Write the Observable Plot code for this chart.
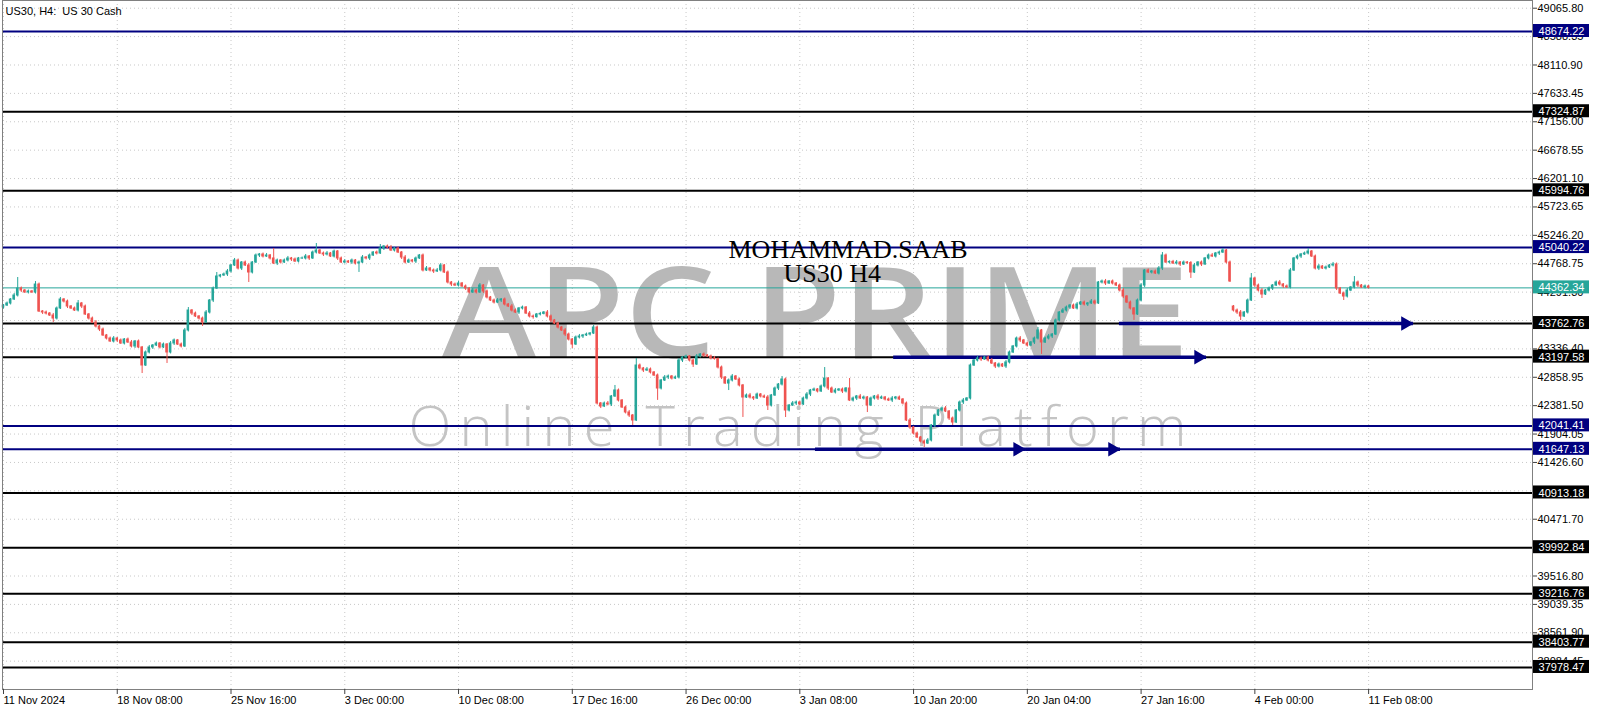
<!DOCTYPE html>
<html><head><meta charset="utf-8">
<script src="https://cdn.jsdelivr.net/npm/d3@7"></script>
<script src="https://cdn.jsdelivr.net/npm/@observablehq/plot@0.6"></script>
<style>html,body{margin:0;padding:0;background:#fff;overflow:hidden}#chart{position:absolute;left:0;top:0}</style>
</head><body><div id="chart"></div>
<script>
const chartTitle = "US30, H4:  US 30 Cash";
const watermark = "APC PRIME";
const watermarkSub = "Online Trading Platform";
const author = "MOHAMMAD.SAAB";
const symbolTf = "US30 H4";

const timeLabels = ["11 Nov 2024","18 Nov 08:00","25 Nov 16:00","3 Dec 00:00","10 Dec 08:00","17 Dec 16:00","26 Dec 00:00","3 Jan 08:00","10 Jan 20:00","20 Jan 04:00","27 Jan 16:00","4 Feb 00:00","11 Feb 08:00"];
const timeLabelBars = [0,32,64,96,128,160,192,224,256,288,320,352,384];

const priceTicks = [49065.80,48588.35,48110.90,47633.45,47156.00,46678.55,46201.10,45723.65,45246.20,44768.75,44291.30,43813.85,43336.40,42858.95,42381.50,41904.05,41426.60,40949.15,40471.70,39994.25,39516.80,39039.35,38561.90,38084.45];

const levels = [48674.22,47324.87,45994.76,45040.22,43762.76,43197.58,42041.41,41647.13,40913.18,39992.84,39216.76,38403.77,37978.47];
const levelColors = ["navy","black","black","navy","black","black","navy","navy","black","black","black","black","black"];
const currentPrice = 44362.34;

const arrowStart = [313.9,250.4,228.4,287.5];
const arrowEnd = [396.6,338.4,287.5,314.2];
const arrowLevel = [43762.76,43197.58,41647.13,41647.13];

const open = [
44032,44066,44100,44167,44234,44352,44318,44285,44302,44285,
44419,43965,43948,43931,43898,43847,44016,44167,44133,44049,
44016,43982,44100,44049,43915,43847,43780,43713,43662,43562,
43511,43461,43511,43478,43427,43494,43444,43377,43461,43360,
43057,43276,43360,43393,43427,43360,43410,43276,43427,43478,
43410,43377,43646,43982,43931,43881,43847,43780,43948,44150,
44352,44554,44571,44588,44638,44739,44823,44688,44789,44739,
44621,44789,44907,44924,44890,44907,44857,44772,44823,44789,
44823,44857,44840,44806,44857,44857,44890,44857,44957,44991,
44941,44924,44941,44890,44974,44857,44789,44806,44789,44823,
44772,44789,44873,44857,44907,44957,44941,45025,45058,45041,
44991,45025,44957,44873,44789,44823,44806,44857,44907,44655,
44688,44655,44638,44655,44739,44621,44453,44419,44402,44436,
44386,44352,44285,44318,44285,44402,44302,44201,44150,44116,
44150,44167,44083,44049,43982,43948,44016,44032,43931,43881,
43870,43915,43925,43948,43881,43814,43763,43696,43646,43578,
43494,43410,43528,43545,43562,43578,43595,43696,42418,42367,
42418,42401,42536,42637,42468,42351,42267,42216,42132,43057,
43007,42973,42990,42939,42889,42670,42805,42855,42872,42838,
42855,43141,43192,43208,43141,43074,43208,43242,43225,43208,
43175,43165,43023,42855,42754,42805,42872,42822,42721,42519,
42553,42519,42502,42569,42536,42519,42384,42553,42670,42737,
42822,42300,42384,42418,42435,42401,42502,42569,42637,42653,
42620,42704,42838,42670,42603,42637,42653,42620,42670,42468,
42502,42536,42502,42519,42384,42502,42536,42502,42519,42485,
42468,42502,42519,42485,42418,42132,42014,41913,41846,41779,
41745,41796,42048,42216,42300,42334,42283,42166,42098,42300,
42435,42468,42502,43057,43141,43175,43158,43192,43141,43091,
43040,43074,43040,43108,43276,43377,43511,43478,43427,43393,
43444,43511,43646,43444,43511,43545,43578,43814,43948,43982,
44032,44066,44016,44083,44116,44083,44100,44133,44100,44453,
44470,44436,44470,44436,44402,44318,44217,44116,44016,43915,
44150,44402,44655,44621,44638,44604,44688,44907,44789,44800,
44772,44789,44756,44789,44780,44621,44739,44789,44756,44857,
44907,44890,44941,44957,44991,44789,44049,43982,43948,43881,
43948,44150,44520,44402,44318,44251,44318,44352,44402,44453,
44419,44386,44369,44655,44857,44890,44924,44941,44974,44890,
44688,44722,44688,44705,44739,44756,44352,44268,44217,44318,
44369,44453,44402,44369,44386];

const close = [
44066,44100,44167,44234,44352,44318,44285,44302,44285,44419,
43965,43948,43931,43898,43847,44016,44167,44133,44049,44016,
43982,44100,44049,43915,43847,43780,43713,43662,43562,43511,
43461,43511,43478,43427,43494,43444,43377,43461,43360,43057,
43276,43360,43393,43427,43360,43410,43276,43427,43478,43410,
43377,43646,43982,43931,43881,43847,43780,43948,44150,44352,
44554,44571,44588,44638,44739,44823,44688,44789,44739,44621,
44789,44907,44924,44890,44907,44857,44772,44823,44789,44823,
44857,44840,44806,44857,44857,44890,44857,44957,44991,44941,
44924,44941,44890,44974,44857,44789,44806,44789,44823,44772,
44789,44873,44857,44907,44957,44941,45025,45058,45041,44991,
45025,44957,44873,44789,44823,44806,44857,44907,44655,44688,
44655,44638,44655,44739,44621,44453,44419,44402,44436,44386,
44352,44285,44318,44285,44402,44302,44201,44150,44116,44150,
44167,44083,44049,43982,43948,44016,44032,43931,43881,43870,
43915,43925,43948,43881,43814,43763,43696,43646,43578,43494,
43410,43528,43545,43562,43578,43595,43696,42418,42367,42418,
42401,42536,42637,42468,42351,42267,42216,42132,43057,43007,
42973,42990,42939,42889,42670,42805,42855,42872,42838,42855,
43141,43192,43208,43141,43074,43208,43242,43225,43208,43175,
43165,43023,42855,42754,42805,42872,42822,42721,42519,42553,
42519,42502,42569,42536,42519,42384,42553,42670,42737,42822,
42300,42384,42418,42435,42401,42502,42569,42637,42653,42620,
42704,42838,42670,42603,42637,42653,42620,42670,42468,42502,
42536,42502,42519,42384,42502,42536,42502,42519,42485,42468,
42502,42519,42485,42418,42132,42014,41913,41846,41779,41745,
41796,42048,42216,42300,42334,42283,42166,42098,42300,42435,
42468,42502,43057,43141,43175,43158,43192,43141,43091,43040,
43074,43040,43108,43276,43377,43511,43478,43427,43393,43444,
43511,43646,43444,43511,43545,43578,43814,43948,43982,44032,
44066,44016,44083,44116,44083,44100,44133,44100,44453,44470,
44436,44470,44436,44402,44318,44217,44116,44016,43915,44150,
44402,44655,44621,44638,44604,44688,44907,44789,44800,44772,
44789,44756,44789,44780,44621,44739,44789,44756,44857,44907,
44890,44941,44957,44991,44789,44470,43982,43948,43881,43948,
44150,44520,44402,44318,44251,44318,44352,44402,44453,44419,
44386,44369,44655,44857,44890,44924,44941,44974,44890,44688,
44722,44688,44705,44739,44756,44352,44268,44217,44318,44369,
44453,44402,44369,44386,44362];

const upperWick = [
17,25,17,34,185,25,17,25,17,50,25,17,25,17,34,25,34,17,25,17,
25,50,17,25,17,25,34,17,25,17,25,34,17,25,17,25,34,17,25,17,
25,34,17,25,17,25,17,34,25,17,25,34,50,17,25,17,25,34,17,25,
67,17,25,34,17,34,25,17,25,34,17,25,17,25,34,17,168,25,17,25,
34,17,25,17,25,34,17,25,118,17,25,34,17,25,17,25,34,17,25,17,
25,34,17,25,17,25,67,17,25,34,17,25,17,34,25,17,25,17,25,34,
17,25,34,34,17,25,17,25,34,17,25,17,34,25,34,17,25,17,25,34,
17,25,17,34,25,17,25,17,34,25,17,25,17,34,25,17,25,17,34,25,
17,25,34,17,25,17,34,25,17,25,34,17,84,25,17,25,34,17,118,25,
17,34,25,17,25,17,34,25,17,25,34,17,25,17,25,34,17,25,17,25,
34,17,25,17,25,34,17,25,17,25,34,17,25,17,25,34,17,25,17,50,
25,17,34,25,17,25,34,17,25,17,25,185,17,25,34,17,25,17,168,25,
17,34,25,17,25,17,34,25,17,25,34,17,25,17,25,34,17,25,17,25,
34,17,25,17,25,34,17,25,17,25,34,17,25,17,34,25,17,25,34,17,
25,17,34,25,17,25,34,17,25,17,25,50,17,25,34,17,25,17,34,25,
17,25,34,17,25,17,34,25,17,25,34,17,25,17,25,34,17,25,17,25,
34,17,25,17,25,34,50,25,17,25,34,17,25,17,25,34,17,25,17,25,
34,17,25,34,17,25,17,25,34,17,25,84,17,25,34,17,25,17,25,34,
17,25,34,17,25,17,25,50,17,25,34,17,25,17,34,25,17,25,34,17,
100,25,17,25,17];

const lowerWick = [
25,17,25,17,25,34,17,25,17,25,17,34,25,17,67,25,17,25,34,17,
17,25,34,17,25,17,25,34,17,25,17,25,34,17,25,17,25,34,17,135,
17,25,34,17,25,17,185,25,34,17,25,17,25,34,17,25,67,17,25,34,
17,25,17,34,25,17,25,34,17,168,25,17,34,25,17,25,17,34,25,17,
25,34,17,25,17,25,34,17,25,17,34,25,17,25,34,17,25,17,34,25,
150,17,25,34,17,25,17,34,25,17,25,17,34,25,17,25,34,17,25,17,
25,34,17,25,17,25,34,17,25,17,34,25,17,25,17,34,25,17,25,17,
34,25,17,25,17,34,25,17,25,34,17,25,17,25,34,17,25,17,34,25,
67,17,25,34,17,25,17,25,34,17,25,34,17,25,17,25,34,84,17,25,
34,17,25,17,200,25,17,34,25,17,25,34,17,25,50,17,25,34,17,25,
17,25,34,17,118,25,17,25,336,17,25,34,17,25,17,84,25,17,34,25,
118,25,17,34,25,17,25,34,17,25,17,25,34,17,25,17,34,25,17,25,
34,17,25,118,17,25,34,17,25,17,34,25,17,25,17,34,25,17,25,67,
17,25,34,17,25,17,34,50,17,25,34,17,25,17,25,34,17,25,17,34,
25,17,34,25,17,25,34,17,25,17,34,25,200,17,25,34,17,25,17,25,
34,17,25,17,25,34,17,25,17,25,34,17,25,17,25,34,17,25,100,17,
25,34,17,25,17,25,34,17,25,17,25,34,17,25,100,17,25,34,17,25,
17,25,34,17,25,17,25,34,67,17,25,17,34,25,67,17,25,34,17,25,
34,17,25,17,25,34,17,25,17,25,34,17,25,17,25,34,17,67,25,17,
25,34,17,25,17];

const upColor = "#26a69a", downColor = "#ef5350", navy = "#000080", teal = "#26a69a";
const xDomain = [-0.28, 430.1];
const yDomain = [37608, 49195.6];
const xMax = xDomain[1];

const bars = close.map((c, i) => ({
  i, open: open[i], close: c,
  high: Math.max(open[i], c) + upperWick[i],
  low: Math.min(open[i], c) - lowerWick[i],
  color: c >= open[i] ? upColor : downColor
}));
const levelData = levels.map((v, k) => ({v, color: levelColors[k] === "navy" ? navy : "#000"}));
const arrows = arrowStart.map((s, k) => ({s, e: arrowEnd[k], y: arrowLevel[k]}));

const svg = Plot.plot({
  width: 1600, height: 711,
  marginLeft: 2, marginRight: 68, marginTop: 0, marginBottom: 22,
  style: {fontFamily: "Liberation Sans, Arial, sans-serif", fontSize: "11px", background: "#fff", color: "#000", overflow: "visible"},
  x: {type: "linear", domain: xDomain, axis: null},
  y: {type: "linear", domain: yDomain, axis: null},
  marks: [
    Plot.gridY(priceTicks, {stroke: "#c8c8c8", strokeOpacity: 1, strokeDasharray: "1,3"}),
    Plot.gridX(timeLabelBars, {stroke: "#c8c8c8", strokeOpacity: 1, strokeDasharray: "1,3"}),
    Plot.text([watermark], {frameAnchor: "top-left", dx: 439, dy: 317, text: d => d, textAnchor: "start", lineAnchor: "middle", fontFamily: "Open Sans", fontWeight: 600, fontSize: 126, fill: "#b8b8b8"}),
    Plot.text([watermarkSub], {frameAnchor: "top-left", dx: 406, dy: 428, text: d => d, textAnchor: "start", lineAnchor: "middle", fontFamily: "Open Sans", fontWeight: 300, fontSize: 56, fill: "#c4c4c4"}),
    Plot.ruleY(levelData, {y: "v", stroke: "color", strokeWidth: 2}),
    Plot.ruleY([currentPrice], {stroke: teal, strokeWidth: 1}),
    Plot.ruleY(arrows, {y: "y", x1: "s", x2: "e", stroke: navy, strokeWidth: 3.5}),
    Plot.dot(arrows, {x: "e", y: "y", symbol: "triangle", rotate: 90, r: 5.4, fill: navy, stroke: null, dx: -8}),
    Plot.ruleX(bars, {x: "i", y1: "low", y2: "high", stroke: "color", strokeWidth: 1}),
    Plot.rect(bars, {x1: d => d.i - 0.36, x2: d => d.i + 0.36, y1: "open", y2: "close", fill: "color", insetTop: -0.5, insetBottom: -0.5}),
    Plot.text([author], {frameAnchor: "top-left", dx: 726, dy: 249, text: d => d, textAnchor: "start", lineAnchor: "middle", fontFamily: "Liberation Serif", fontSize: 26, fill: "#000"}),
    Plot.text([symbolTf], {frameAnchor: "top-left", dx: 781, dy: 273, text: d => d, textAnchor: "start", lineAnchor: "middle", fontFamily: "Liberation Serif", fontSize: 26, fill: "#000"}),
    Plot.frame({stroke: "#808080"}),
    Plot.axisY(priceTicks, {anchor: "right", tickSize: 4, tickPadding: 1, tickFormat: d => d.toFixed(2), fontSize: 11, stroke: "#404040", fill: "#000", textAnchor: "start"}),
    Plot.axisX(timeLabelBars, {anchor: "bottom", tickSize: 5, tickPadding: 2, tickFormat: d => timeLabels[timeLabelBars.indexOf(d)], textAnchor: "start", fontSize: 11, stroke: "#404040", fill: "#000"}),
    Plot.rect(levelData, {x1: xMax, x2: xMax, y1: "v", y2: "v", fill: "color", insetLeft: 1, insetRight: -57, insetTop: -7, insetBottom: -6}),
    Plot.text(levelData, {x: xMax, y: "v", text: d => d.v.toFixed(2), dx: 29, fill: "#fff", fontSize: 11, textAnchor: "middle"}),
    Plot.rect([currentPrice], {x1: xMax, x2: xMax, y1: d => d, y2: d => d, fill: teal, insetLeft: 1, insetRight: -57, insetTop: -7, insetBottom: -6}),
    Plot.text([currentPrice], {x: xMax, y: d => d, text: d => d.toFixed(2), dx: 29, fill: "#fff", fontSize: 11, textAnchor: "middle"}),
    Plot.text([chartTitle], {frameAnchor: "top-left", dx: 3, dy: 11, text: d => d, textAnchor: "start", lineAnchor: "middle", fontSize: 11, fill: "#000"})
  ]
});

d3.select(svg).selectAll("text").each(function() {
  const t = this.textContent;
  if (t === watermark) d3.select(this).attr("textLength", 748).attr("lengthAdjust", "spacingAndGlyphs");
  if (t === watermarkSub) d3.select(this).attr("textLength", 778).attr("lengthAdjust", "spacing");
  if (t === chartTitle) d3.select(this).style("white-space", "pre");
});
document.getElementById("chart").appendChild(svg);
</script>
</body></html>
